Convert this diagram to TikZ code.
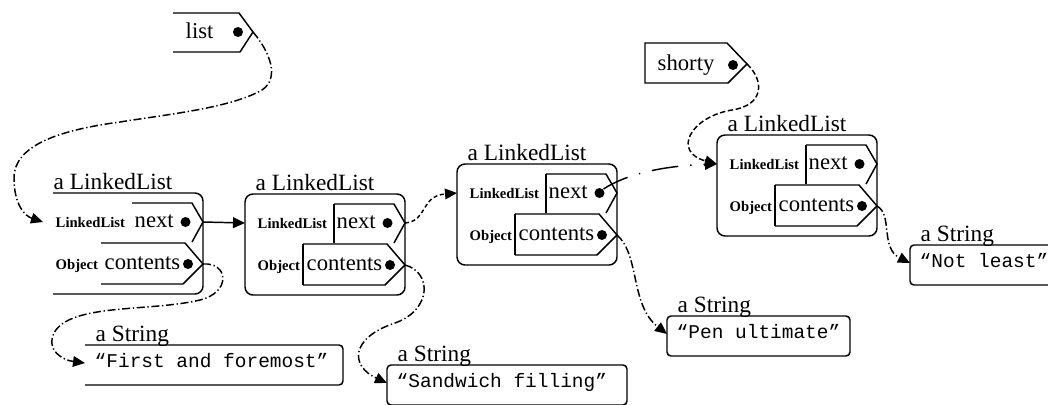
\documentclass[tikz,border=0pt]{standalone}
\usepackage{fontspec}
\setmainfont{Liberation Serif}
\setmonofont{Liberation Mono}
\usepackage{tikz}
\usetikzlibrary{arrows.meta}

% one LinkedList cell: name, x, y of the next row, left edges drawn (1/0)
\newcommand{\llobj}[4]{%
  \begin{scope}[shift={(#2,#3)}]
    \node[objlbl] (#1-lbl) at (10,-33) {a LinkedList};
    \draw[rounded corners=6pt] (10,-29) -- (160,-29) -- (160,72) -- (10,72);
    \ifnum#4=1
      \draw[rounded corners=6pt] (10,-29) -- (0,-29) -- (0,72) -- (10,72);
      \draw (89,20) -- (89,-19);
      \draw (58,21) -- (58,62);
    \fi
    \draw (89,-19) -- (149,-19) -- (160,0) -- (149,20);
    \draw (58,21) -- (142,21) -- (160,42) -- (140,62) -- (58,62);
    \node[typetxt] (#1-t1) at (12,5) {LinkedList};
    \node[slottxt] (#1-s1) at (91,5) {next};
    \node[typetxt] (#1-t2) at (12,47) {Object};
    \node[slottxt] (#1-s2) at (61,47) {contents};
    \node[dot] (#1-ndot) at (142.5,0) {};
    \node[dot] (#1-cdot) at (145,42) {};
    \coordinate (#1-in) at (0,0);
    \coordinate (#1-next) at (160,0);
    \coordinate (#1-cont) at (160,42);
  \end{scope}}

% one String: name, x, y, width, text, left edge drawn (1/0)
\newcommand{\strobj}[6]{%
  \begin{scope}[shift={(#2,#3)}]
    \node[objlbl] (#1-lbl) at (10,-4) {a String};
    \ifnum#6=1
      \draw[rounded corners=3pt] (0,0) rectangle (#4,40);
    \else
      \draw[rounded corners=3pt] (0,0) -- (#4,0) -- (#4,40) -- (0,40);
    \fi
    \node[strtxt] (#1-txt) at (9,22) {#5};
    \coordinate (#1-in) at (0,18);
  \end{scope}}

\begin{document}
\begin{tikzpicture}[x=0.75pt,y=-0.75pt,line width=1.1pt,>={Triangle[length=9pt,width=8pt]},
  objlbl/.style={anchor=base west,inner sep=0pt,font=\fontsize{17.5}{20}\selectfont},
  typetxt/.style={anchor=base west,inner sep=0pt,font=\bfseries\fontsize{11}{13}\selectfont},
  slottxt/.style={anchor=base west,inner sep=0pt,font=\fontsize{17}{20}\selectfont},
  strtxt/.style={anchor=base west,inner sep=0pt,font=\ttfamily\fontsize{14.6}{17}\selectfont},
  dot/.style={circle,fill,inner sep=0pt,minimum size=7.5pt},
  ptr/.style={->,dash pattern=on 6pt off 2pt on 1pt off 2pt}]
  \useasboundingbox (0,0) rectangle (1048,404);

  % variables
  \draw (173,13) -- (239,13) -- (253,32) -- (240,52) -- (173,52);
  \node[slottxt] (list) at (185,38) {list};
  \node[dot] (list-dot) at (238,32) {};
  \coordinate (list-tip) at (253,32);

  \draw (645,43) -- (727,43) -- (747,64) -- (728,83) -- (645,83) -- cycle;
  \node[slottxt] (shorty) at (657,70) {shorty};
  \node[dot] (shorty-dot) at (733,65) {};
  \coordinate (shorty-tip) at (747,64);

  % cells
  \llobj{c1}{43}{222}{0}
  \llobj{c2}{245}{223}{1}
  \llobj{c3}{457}{193}{1}
  \llobj{c4}{717}{164}{1}

  % strings
  \strobj{s1}{85}{345}{258}{“First and foremost”}{0}
  \strobj{s2}{387}{365}{240}{“Sandwich filling”}{1}
  \strobj{s3}{667}{316}{183}{“Pen ultimate”}{1}
  \strobj{s4}{910}{245}{160}{“Not least”}{1}

  % references
  \draw[ptr] (list-tip) .. controls (270,52) and (280,78) .. (262,90)
    .. controls (230,108) and (170,114) .. (120,122)
    .. controls (60,130) and (14,145) .. (14,178)
    .. controls (14,205) and (25,216) .. (c1-in);
  \draw[->] (c1-next) -- (c2-in);
  \draw[ptr,dash pattern=on 3pt off 2pt] (c2-next) .. controls (428,221) and (420,196) .. (c3-in);
  \draw[ptr,dash pattern=on 20pt off 9pt on 1pt off 9pt] (c3-ndot.north east)
    .. controls (625,175) and (660,166) .. (c4-in);
  \draw[ptr,dash pattern=on 4pt off 2pt] (shorty-tip) .. controls (764,80) and (765,105) .. (732,110)
    .. controls (690,117) and (672,152) .. (c4-in);

  \draw[ptr] (c1-cont) .. controls (228,262) and (232,292) .. (200,300)
    .. controls (150,312) and (70,303) .. (54,333)
    .. controls (46,350) and (62,360) .. (s1-in);
  \draw[ptr] (c2-cont) .. controls (432,272) and (432,310) .. (395,323)
    .. controls (350,338) and (350,366) .. (s2-in);
  \draw[ptr] (c3-cont) .. controls (640,255) and (630,305) .. (s3-in);
  \draw[ptr] (c4-cont) .. controls (893,215) and (880,248) .. (s4-in);
\end{tikzpicture}
\end{document}
